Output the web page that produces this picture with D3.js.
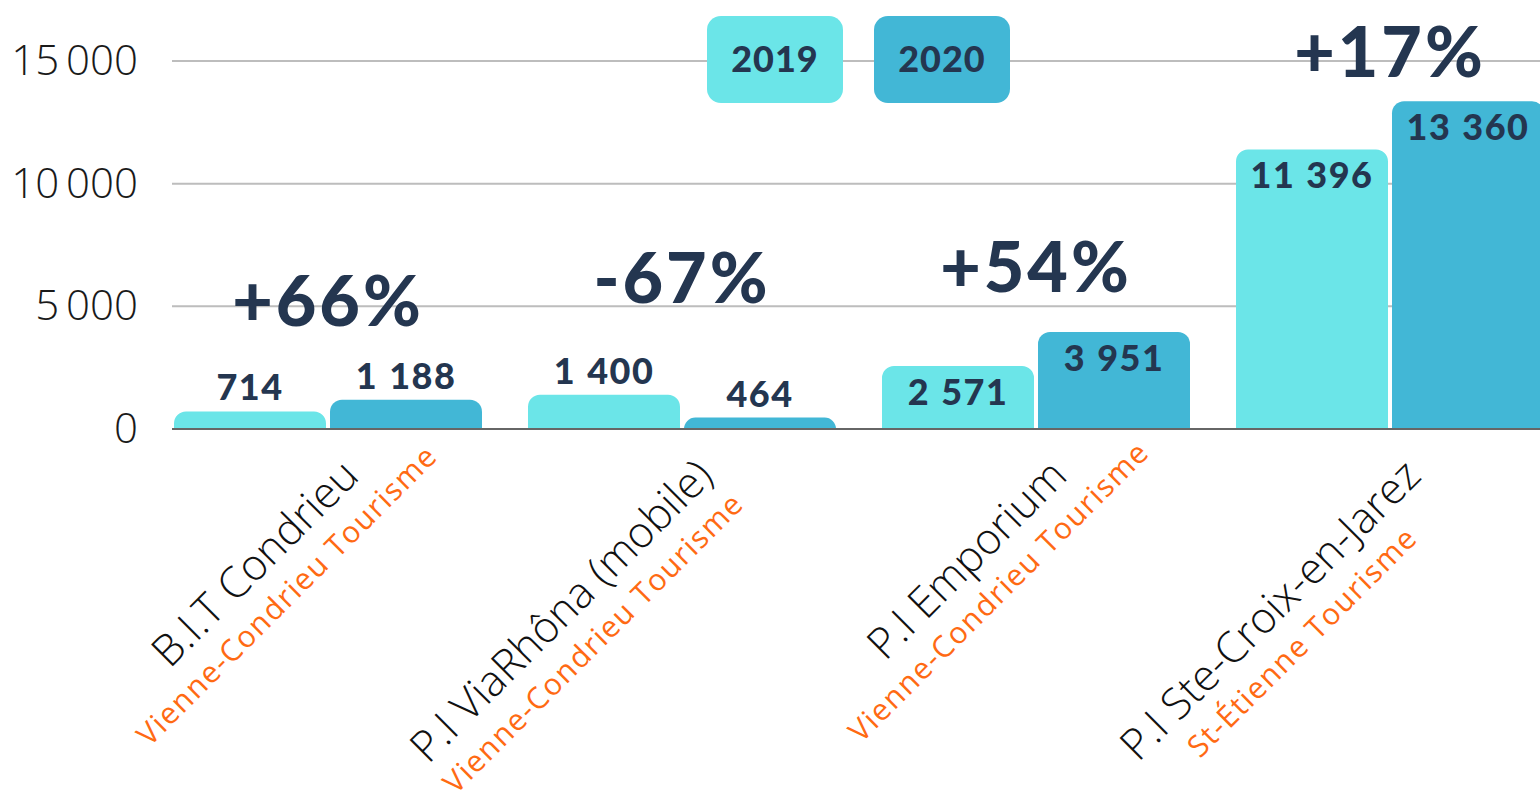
<!DOCTYPE html>
<html>
<head>
<meta charset="utf-8">
<script src="https://cdn.jsdelivr.net/npm/d3@7"></script>
<style>
  html, body { margin: 0; padding: 0; background: #fff; overflow: hidden; }
</style>
</head>
<body>
<div id="chart"></div>
<script>
// data
const categories = ["B.I.T Condrieu", "P.I ViaRhôna (mobile)", "P.I Emporium", "P.I Ste-Croix-en-Jarez"];
const operators = ["Vienne-Condrieu Tourisme", "Vienne-Condrieu Tourisme", "Vienne-Condrieu Tourisme", "St-Étienne Tourisme"];
const years = ["2019", "2020"];
const values2019 = [714, 1400, 2571, 11396];
const values2020 = [1188, 464, 3951, 13360];
const yTicks = [0, 5000, 10000, 15000];

// layout
const width = 1540, height = 808;
const navy = "#243650";
const color = d3.scaleOrdinal().domain(years).range(["#6be5e8", "#42b7d6"]);
// how far each change label sits above the tallest bar of its group
const pctLift = [74, 92, 40, 24];

const rows = categories.map((c, i) => ({
  name: c, operator: operators[i],
  values: [values2019[i], values2020[i]]
}));

const svg = d3.select("#chart").append("svg")
    .attr("width", width)
    .attr("height", height);

const x0 = d3.scaleBand()
    .domain(categories)
    .range([174, 1544])
    .paddingInner(46 / 354)
    .paddingOuter(0);

const x1 = d3.scaleBand()
    .domain(years)
    .range([0, x0.bandwidth()])
    .paddingInner(4 / 156);

const y = d3.scaleLinear()
    .domain([0, 15000])
    .range([429, 61]);

const tickFmt = d3.formatLocale({decimal: ",", thousands: "\u2009", grouping: [3], currency: ["", "€"]}).format(",d");
const valFmt = d3.formatLocale({decimal: ",", thousands: "\u00a0", grouping: [3], currency: ["", "€"]}).format(",d");

// gridlines
svg.append("g")
  .selectAll("line")
  .data(yTicks.filter(d => d > 0))
  .enter().append("line")
    .attr("x1", 172).attr("x2", width)
    .attr("y1", d => y(d)).attr("y2", d => y(d))
    .attr("stroke", "#bdbdbd")
    .attr("stroke-width", 2);

// y axis labels
const yAxis = svg.append("g")
    .attr("transform", "translate(138,0)")
    .call(d3.axisLeft(y).tickValues(yTicks).tickSize(0).tickPadding(0).tickFormat(tickFmt));
yAxis.select(".domain").remove();
yAxis.selectAll("text")
    .attr("font-family", "'Open Sans', sans-serif")
    .attr("font-weight", 300)
    .attr("font-size", 42)
    .attr("fill", "#1a1a1a");

// legend
const legend = svg.append("g");
const lg = legend.selectAll("g")
  .data(years)
  .enter().append("g")
    .attr("transform", (d, i) => "translate(" + (707 + i * 167) + ",16)");
lg.append("rect")
    .attr("width", 136).attr("height", 87)
    .attr("rx", 14)
    .attr("fill", d => color(d));
lg.append("text")
    .attr("x", 68).attr("y", 56)
    .attr("text-anchor", "middle")
    .attr("font-family", "Lato, sans-serif")
    .attr("font-weight", 900)
    .attr("font-size", 36)
    .attr("letter-spacing", 1)
    .attr("fill", navy)
    .text(d => d);

function topRounded(x, yTop, w, h, r) {
  r = Math.min(r, h, w / 2);
  return "M" + x + "," + (yTop + h) +
    "V" + (yTop + r) +
    "A" + r + "," + r + " 0 0 1 " + (x + r) + "," + yTop +
    "H" + (x + w - r) +
    "A" + r + "," + r + " 0 0 1 " + (x + w) + "," + (yTop + r) +
    "V" + (yTop + h) + "Z";
}

// bars
const groups = svg.append("g")
  .selectAll("g")
  .data(rows)
  .enter().append("g")
    .attr("transform", d => "translate(" + x0(d.name) + ",0)");

const cells = groups.selectAll("g")
  .data(d => d.values.map((v, j) => ({year: years[j], value: v})))
  .enter().append("g");

cells.append("path")
    .attr("d", d => topRounded(x1(d.year), y(d.value), x1.bandwidth(), y(0) - y(d.value), 12))
    .attr("fill", d => color(d.year));

cells.append("text")
    .attr("x", d => x1(d.year) + x1.bandwidth() / 2)
    .attr("y", d => (y(0) - y(d.value) > 50) ? y(d.value) + 39 : y(d.value) - 11)
    .attr("text-anchor", "middle")
    .attr("font-family", "Lato, sans-serif")
    .attr("font-weight", 900)
    .attr("font-size", 36)
    .attr("letter-spacing", 1.5)
    .attr("word-spacing", 1)
    .attr("fill", navy)
    .text(d => valFmt(d.value));

// change labels
groups.append("text")
    .attr("x", x0.bandwidth() / 2)
    .attr("y", (d, i) => y(d3.max(d.values)) - pctLift[i])
    .attr("text-anchor", "middle")
    .attr("font-family", "Lato, sans-serif")
    .attr("font-weight", 900)
    .attr("font-size", 70)
    .attr("letter-spacing", 3)
    .attr("fill", navy)
    .text(d => {
      const r = d.values[1] / d.values[0] - 1;
      return (r >= 0 ? "+" : "-") + Math.round(Math.abs(r) * 100) + "%";
    });

// x baseline
svg.append("line")
    .attr("x1", 172).attr("x2", width)
    .attr("y1", y(0)).attr("y2", y(0))
    .attr("stroke", "#666")
    .attr("stroke-width", 2);

// category labels, rotated
const labels = svg.append("g")
  .selectAll("g")
  .data(rows)
  .enter().append("g")
    .attr("transform", d => "translate(" + (x0(d.name) + x0.bandwidth() / 2 + 33) + ",478) rotate(-45)");

labels.append("text")
    .attr("class", "main")
    .attr("text-anchor", "end")
    .attr("font-family", "'Open Sans', sans-serif")
    .attr("font-weight", 300)
    .attr("font-size", 43)
    .attr("fill", "#111")
    .text(d => d.name);

labels.each(function() {
  const g = d3.select(this);
  const w = g.select("text.main").node().getComputedTextLength();
  g.append("text")
      .attr("x", -w / 2)
      .attr("y", 41)
      .attr("text-anchor", "middle")
      .attr("font-family", "'Open Sans', sans-serif")
      .attr("font-weight", 400)
      .attr("font-size", 30)
      .attr("letter-spacing", 1.5)
      .attr("fill", "#ff6a13")
      .text(d => d.operator);
});
</script>
</body>
</html>
